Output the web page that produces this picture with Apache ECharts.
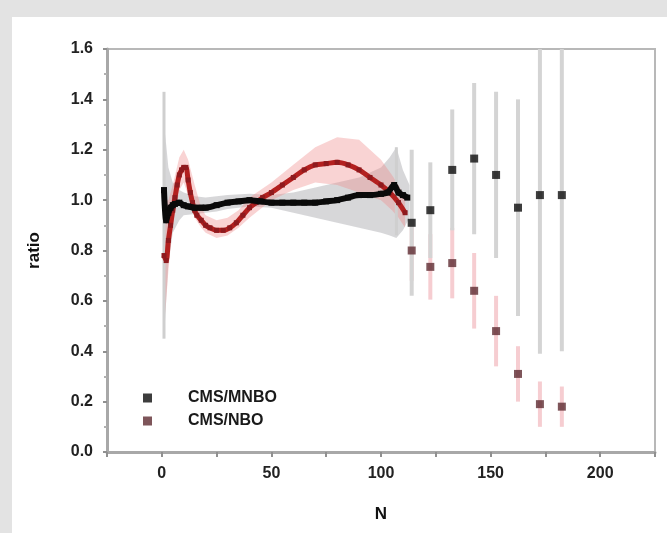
<!DOCTYPE html>
<html>
<head>
<meta charset="utf-8">
<script src="https://cdn.jsdelivr.net/npm/echarts@6/dist/echarts.min.js"></script>
<style>
html,body{margin:0;padding:0;background:#ffffff;}
#chart{width:667px;height:533px;background:#ffffff;box-shadow:inset 12px 17px 0 #e3e3e3;}
</style>
</head>
<body>
<div id="chart"></div>
<script>
// ---- data ----
const blackDenseN = [1,2,3,4,5,6,8,10,12,15,18,20,25,30,35,40,45,50,55,60,65,70,75,80,85,90,95,100,103,106,108,110,112];
const blackDenseV = [1.04,0.92,0.95,0.97,0.98,0.985,0.99,0.98,0.975,0.97,0.97,0.97,0.98,0.99,0.995,1.0,0.995,0.99,0.99,0.99,0.99,0.99,0.995,1.0,1.01,1.02,1.02,1.025,1.03,1.06,1.03,1.02,1.01];

const redDenseN = [1,2,3,4,5,6,7,8,9,10,11,12,13,14,15,16,18,20,22,25,28,31,34,37,40,43,46,50,55,60,65,70,75,80,85,90,95,100,104,108,111];
const redDenseV = [0.78,0.76,0.84,0.90,0.96,1.01,1.06,1.10,1.12,1.13,1.13,1.08,1.03,0.99,0.96,0.94,0.92,0.90,0.89,0.88,0.88,0.89,0.91,0.94,0.97,0.99,1.01,1.03,1.06,1.09,1.12,1.14,1.145,1.15,1.14,1.12,1.09,1.06,1.03,0.99,0.95];

const grayBandN  = [1,2,3,5,8,10,15,20,25,30,40,50,60,70,80,90,100,104,107,110,113];
const grayBandLo = [0.45,0.60,0.75,0.87,0.92,0.94,0.945,0.95,0.955,0.965,0.975,0.97,0.95,0.93,0.91,0.89,0.87,0.86,0.85,0.88,0.93];
const grayBandHi = [1.30,1.22,1.13,1.07,1.04,1.03,1.015,1.01,1.015,1.02,1.025,1.02,1.03,1.05,1.07,1.09,1.13,1.17,1.21,1.12,1.06];

const redBandN  = [1,2,3,5,8,10,12,15,18,20,25,30,35,40,50,60,70,80,90,100,105,108,111];
const redBandLo = [0.50,0.60,0.72,0.90,1.04,1.07,1.02,0.93,0.89,0.87,0.85,0.86,0.89,0.93,1.00,1.04,1.07,1.06,1.03,1.00,0.96,0.93,0.89];
const redBandHi = [1.05,1.00,1.00,1.06,1.17,1.20,1.16,1.06,0.97,0.94,0.92,0.93,0.96,1.01,1.07,1.14,1.21,1.25,1.24,1.16,1.10,1.06,1.01];

const denseErrN  = [1,107];
const denseErrLo = [0.45,0.86];
const denseErrHi = [1.43,1.21];

const sparseN = [114,122.5,132.5,142.5,152.5,162.5,172.5,182.5];
const blackSparseV   = [0.91,0.96,1.12,1.165,1.10,0.97,1.02,1.02];
const blackSparseErr = [0.29,0.19,0.24,0.30,0.33,0.43,0.63,0.62];
const redSparseV     = [0.80,0.735,0.75,0.64,0.48,0.31,0.19,0.18];
const redSparseErr   = [0.12,0.13,0.14,0.15,0.14,0.11,0.09,0.08];

const xTickLabels = ['0','50','100','150','200'];
const legendNames = ['CMS/MNBO','CMS/NBO'];

// ---- helpers ----
const FONT = 'Liberation Sans, Arial, sans-serif';
function pairs(xs, ys){ return xs.map((x,i)=>[x, ys[i]]); }
function bandRenderer(N, lo, hi, color){
  return function(params, api){
    if (params.dataIndex !== 0) return null;
    const pts = [];
    for (let i=0;i<N.length;i++) pts.push(api.coord([N[i], hi[i]]));
    for (let i=N.length-1;i>=0;i--) pts.push(api.coord([N[i], lo[i]]));
    return {type:'polygon', shape:{points:pts}, style:{fill:color}};
  };
}
function errRenderer(color, w){
  return function(params, api){
    const x = api.value(0), lo = api.value(1), hi = api.value(2);
    const p1 = api.coord([x, hi]), p2 = api.coord([x, lo]);
    const cs = params.coordSys;
    const r = echarts.graphic.clipRectByRect(
      {x:p1[0]-w/2, y:p1[1], width:w, height:p2[1]-p1[1]},
      {x:cs.x, y:cs.y, width:cs.width, height:cs.height});
    return r ? {type:'rect', shape:r, style:{fill:color}} : null;
  };
}
function errData(xs, v, e){ return xs.map((x,i)=>[x, v[i]-e[i], v[i]+e[i]]); }

const chart = echarts.init(document.getElementById('chart'));
const option = {
  animation:false,
  grid:{left:107, right:12, top:49, bottom:81, show:true, borderColor:'#b8b8b8', borderWidth:2, backgroundColor:'transparent'},
  legend:{
    orient:'vertical', left:138, top:385, itemGap:7,
    itemWidth:40, itemHeight:9,
    icon:'path://M0,0L9,0L9,9L0,9ZM40,9L40,8.99L39.99,8.99Z',
    textStyle:{fontFamily:FONT, fontSize:16, fontWeight:'bold', color:'#1a1a1a'},
    data:legendNames
  },
  xAxis:{
    type:'value', min:-25, max:225, interval:25,
    name:'N', nameLocation:'middle', nameGap:54,
    nameTextStyle:{fontFamily:FONT, fontSize:17, fontWeight:'bold', color:'#111'},
    axisLine:{onZero:false, lineStyle:{color:'#a8a8a8', width:3}},
    axisTick:{length:5, lineStyle:{color:'#909090', width:2}},
    splitLine:{show:false},
    axisLabel:{margin:14, fontFamily:FONT, fontSize:16, fontWeight:'bold', color:'#222',
      formatter:function(v){ const s=String(v); return xTickLabels.indexOf(s)>=0 ? s : ''; }}
  },
  yAxis:{
    type:'value', min:0, max:1.6, interval:0.2,
    name:'ratio', nameLocation:'middle', nameGap:64, nameRotate:90,
    nameTextStyle:{fontFamily:FONT, fontSize:17, fontWeight:'bold', color:'#111'},
    axisLine:{show:true, onZero:false, lineStyle:{color:'#a8a8a8', width:3}},
    axisTick:{show:true, length:4, lineStyle:{color:'#909090', width:2}},
    minorTick:{show:true, splitNumber:2, length:3, lineStyle:{color:'#b0b0b0', width:2}},
    splitLine:{show:false},
    axisLabel:{margin:14, fontFamily:FONT, fontSize:16, fontWeight:'bold', color:'#222',
      formatter:function(v){ return v.toFixed(1); }}
  },
  series:[
    {type:'custom', name:'band MNBO', silent:true, z:1,
     data:[[grayBandN[0], grayBandLo[0]]], encode:{x:0,y:1},
     renderItem:bandRenderer(grayBandN, grayBandLo, grayBandHi, 'rgba(155,155,160,0.40)')},
    {type:'custom', name:'band NBO', silent:true, z:1,
     data:[[redBandN[0], redBandLo[0]]], encode:{x:0,y:1},
     renderItem:bandRenderer(redBandN, redBandLo, redBandHi, 'rgba(240,140,140,0.38)')},
    {type:'custom', name:'err NBO', silent:true, z:2,
     data:errData(sparseN, redSparseV, redSparseErr), encode:{x:0,y:[1,2]},
     renderItem:errRenderer('#f6cdd1', 4)},
    {type:'custom', name:'err MNBO', silent:true, z:2,
     data:errData(sparseN, blackSparseV, blackSparseErr), encode:{x:0,y:[1,2]},
     renderItem:errRenderer('#d4d4d4', 4)},
    {type:'custom', name:'err MNBO dense', silent:true, z:2,
     data:denseErrN.map((n,i)=>[n, denseErrLo[i], denseErrHi[i]]), encode:{x:0,y:[1,2]},
     renderItem:errRenderer('#cfcfcf', 3)},
    {type:'line', name:'NBO dense', z:3, smooth:0.3, symbol:'rect', symbolSize:5, showSymbol:true,
     itemStyle:{color:'#8e1a1e'}, lineStyle:{color:'#b3201f', width:5},
     data:pairs(redDenseN, redDenseV)},
    {type:'line', name:'MNBO dense', z:4, smooth:0.3, symbol:'rect', symbolSize:6, showSymbol:true,
     itemStyle:{color:'#0a0a0a'}, lineStyle:{color:'#0a0a0a', width:6},
     data:pairs(blackDenseN, blackDenseV)},
    {type:'scatter', name:'CMS/NBO', z:5, symbol:'rect', symbolSize:8,
     itemStyle:{color:'#5e2b31'}, data:pairs(sparseN, redSparseV)},
    {type:'scatter', name:'CMS/MNBO', z:5, symbol:'rect', symbolSize:8,
     itemStyle:{color:'#0d0d0d'}, data:pairs(sparseN, blackSparseV)}
  ]
};
chart.setOption(option);
</script>
</body>
</html>
